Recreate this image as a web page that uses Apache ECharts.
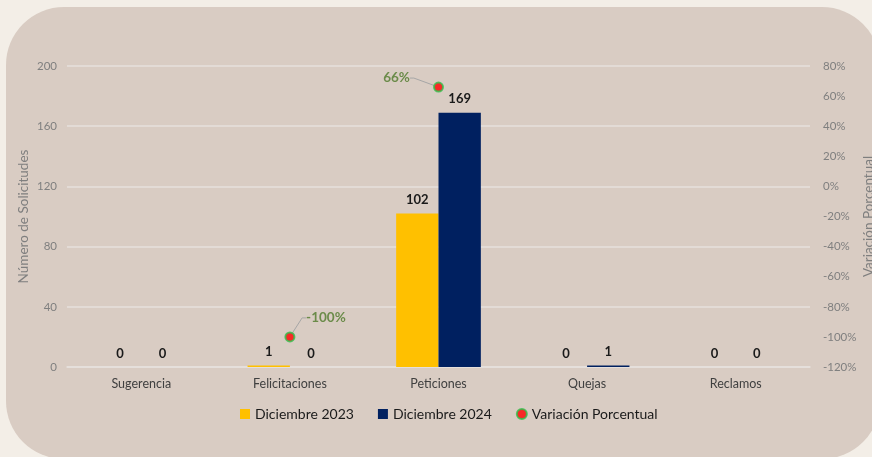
<!DOCTYPE html>
<html>
<head>
<meta charset="utf-8">
<script src="https://cdn.jsdelivr.net/npm/echarts@6/dist/echarts.min.js"></script>
<style>
html,body{margin:0;padding:0;background:#f3eee7;}
#c{width:872px;height:457px;}
</style>
</head>
<body>
<div id="c"></div>
<script>
const categories = ['Sugerencia', 'Felicitaciones', 'Peticiones', 'Quejas', 'Reclamos'];
const dic2023 = [0, 1, 102, 0, 0];
const dic2024 = [0, 0, 169, 1, 0];
const variacion = [null, -1.00, 0.66, null, null];
const leftTicks = { min: 0, max: 200, interval: 40 };
const rightTicks = { min: -1.2, max: 0.8, interval: 0.2 };

const FONT = 'Lato, "Noto Sans", sans-serif';
const chart = echarts.init(document.getElementById('c'));
chart.setOption({
  backgroundColor: 'transparent',
  textStyle: { fontFamily: FONT },
  graphic: [{
    type: 'rect', z: -100, silent: true,
    shape: { x: 6, y: 7, width: 874, height: 452, r: 58 },
    style: { fill: '#d9ccc3' }
  }],
  grid: { left: 67, right: 62, top: 66, bottom: 90, containLabel: false, outerBoundsMode: 'none' },
  legend: {
    bottom: 31, left: 235, itemWidth: 10, itemHeight: 10, itemGap: 24,
    textStyle: { fontSize: 14, color: '#1a1a1a', fontFamily: FONT },
    data: [
      { name: 'Diciembre 2023', icon: 'rect' },
      { name: 'Diciembre 2024', icon: 'rect' },
      { name: 'Variación Porcentual', icon: 'circle' }
    ]
  },
  xAxis: {
    type: 'category', data: categories,
    axisTick: { show: false },
    axisLine: { lineStyle: { color: '#e6e1dd', width: 1.5 } },
    axisLabel: { color: '#404040', fontSize: 12.5, margin: 10, fontFamily: FONT }
  },
  yAxis: [{
    type: 'value', min: leftTicks.min, max: leftTicks.max, interval: leftTicks.interval,
    name: 'Número de Solicitudes', nameLocation: 'middle', nameGap: 36, nameMoveOverlap: false,
    nameTextStyle: { color: '#7f7f7f', fontSize: 13.5, fontFamily: FONT },
    axisLine: { show: false }, axisTick: { show: false },
    axisLabel: { color: '#7f7f7f', fontSize: 11.5, margin: 10, fontFamily: FONT },
    splitLine: { lineStyle: { color: '#e6e1dd', width: 1.5 } }
  }, {
    type: 'value', min: rightTicks.min, max: rightTicks.max, interval: rightTicks.interval,
    name: 'Variación Porcentual', nameLocation: 'middle', nameGap: 52, nameMoveOverlap: false,
    nameTextStyle: { color: '#7f7f7f', fontSize: 13.5, fontFamily: FONT },
    axisLine: { show: false }, axisTick: { show: false },
    splitLine: { show: false },
    axisLabel: {
      color: '#7f7f7f', fontSize: 11.5, margin: 13, fontFamily: FONT,
      formatter: v => Math.round(v * 100) + '%'
    }
  }],
  series: [{
    name: 'Diciembre 2023', type: 'bar', data: dic2023,
    barWidth: '28.5%', barGap: '0%',
    itemStyle: { color: '#ffc000' },
    label: { show: true, position: 'top', distance: 7, color: '#1a1a1a', fontWeight: 'bold', fontSize: 13, fontFamily: FONT }
  }, {
    name: 'Diciembre 2024', type: 'bar', data: dic2024,
    barWidth: '28.5%', barGap: '0%',
    itemStyle: { color: '#002060' },
    label: { show: true, position: 'top', distance: 7, color: '#1a1a1a', fontWeight: 'bold', fontSize: 13, fontFamily: FONT }
  }, {
    name: 'Variación Porcentual', type: 'scatter', yAxisIndex: 1, data: variacion,
    symbolSize: 9, z: 5,
    itemStyle: { color: '#ff0000', borderColor: '#2fbf4a', borderWidth: 2 },
    label: {
      show: true, position: 'inside', color: '#4f7a2b', fontWeight: 'bold', fontSize: 13.5, fontFamily: FONT,
      formatter: p => Math.round(p.value * 100) + '%'
    },
    labelLayout: function (p) {
      if (p.dataIndex === 1) return { dx: 36, dy: -19 };
      if (p.dataIndex === 2) return { dx: -42, dy: -9 };
      return {};
    },
    labelLine: { show: true, length2: 4, lineStyle: { color: '#a6a6a6', width: 1 } }
  }]
});
</script>
</body>
</html>
